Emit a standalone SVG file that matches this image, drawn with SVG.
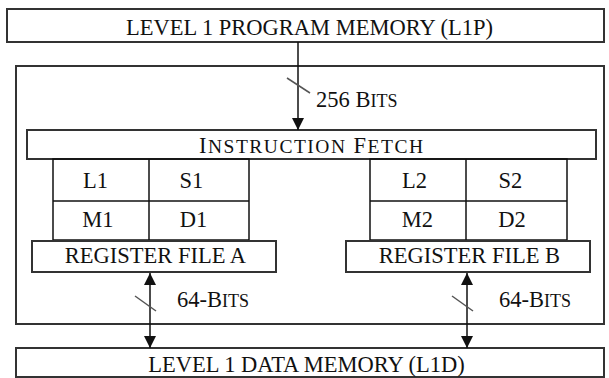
<svg xmlns="http://www.w3.org/2000/svg" width="609" height="378" viewBox="0 0 609 378">
<style>
  .box { fill: #fff; stroke: #333; stroke-width: 2; }
  .cell { fill: none; stroke: #111; stroke-width: 1.5; }
  .t { font-family: "Liberation Serif", "Times New Roman", serif; font-size: 22.5px; fill: #111; }
  .m { text-anchor: middle; }
  .sc { font-size: 18px; }
  .sc2 { font-size: 19.5px; }
  .wire { stroke: #111; stroke-width: 1.5; fill: none; }
  .slash { stroke: #555; stroke-width: 1.5; }
</style>
<defs>
  <marker id="ah" viewBox="0 0 12 12" refX="12" refY="6" markerWidth="12" markerHeight="12" markerUnits="userSpaceOnUse" orient="auto-start-reverse">
    <path d="M0,0 L12,6 L0,12 z" fill="#111"/>
  </marker>
</defs>
<rect width="609" height="378" fill="#fff"/>

<g id="l1p">
  <rect class="box" x="7" y="9" width="597" height="33"/>
  <text class="t m" x="309.5" y="35">LEVEL 1 PROGRAM MEMORY (L1P)</text>
</g>

<g id="core">
  <rect class="box" x="16" y="66" width="588" height="258"/>
</g>

<g id="instruction-fetch">
  <rect class="box" x="27" y="130" width="569" height="29"/>
  <text class="t m" x="311" y="153" textLength="224" lengthAdjust="spacing">I<tspan class="sc2">NSTRUCTION</tspan> F<tspan class="sc2">ETCH</tspan></text>
</g>

<g id="units-a">
  <rect class="cell" x="53" y="159" width="196" height="81"/>
  <line class="cell" x1="149" y1="159" x2="149" y2="240"/>
  <line class="cell" x1="53" y1="201" x2="249" y2="201"/>
  <text class="t m" x="95.5" y="188">L1</text>
  <text class="t m" x="191.5" y="188">S1</text>
  <text class="t m" x="98" y="227">M1</text>
  <text class="t m" x="193.5" y="227">D1</text>
</g>

<g id="units-b">
  <rect class="cell" x="370" y="159" width="197" height="81"/>
  <line class="cell" x1="466" y1="159" x2="466" y2="240"/>
  <line class="cell" x1="370" y1="201" x2="567" y2="201"/>
  <text class="t m" x="414.5" y="188">L2</text>
  <text class="t m" x="510.5" y="188">S2</text>
  <text class="t m" x="417.5" y="227">M2</text>
  <text class="t m" x="512" y="227">D2</text>
</g>

<g id="register-file-a">
  <rect class="box" x="32" y="241" width="244" height="31"/>
  <text class="t m" x="155.5" y="263">REGISTER FILE A</text>
</g>

<g id="register-file-b">
  <rect class="box" x="346" y="241" width="244" height="31"/>
  <text class="t m" x="469.5" y="263">REGISTER FILE B</text>
</g>

<g id="l1d">
  <rect class="box" x="16" y="348" width="588" height="29"/>
  <text class="t m" x="306.5" y="372">LEVEL 1 DATA MEMORY (L1D)</text>
</g>

<g id="connectors">
  <line class="wire" x1="298" y1="42" x2="298" y2="130" marker-end="url(#ah)"/>
  <line class="slash" x1="287" y1="78" x2="310" y2="93"/>
  <text class="t" x="316" y="107">256 B<tspan class="sc">ITS</tspan></text>

  <line class="wire" x1="150" y1="273" x2="150" y2="348" marker-start="url(#ah)" marker-end="url(#ah)"/>
  <line class="slash" x1="135" y1="296" x2="156" y2="311"/>
  <text class="t" x="177" y="307">64-B<tspan class="sc">ITS</tspan></text>

  <line class="wire" x1="467" y1="273" x2="467" y2="348" marker-start="url(#ah)" marker-end="url(#ah)"/>
  <line class="slash" x1="452" y1="296" x2="473" y2="311"/>
  <text class="t" x="499" y="307">64-B<tspan class="sc">ITS</tspan></text>
</g>
</svg>
